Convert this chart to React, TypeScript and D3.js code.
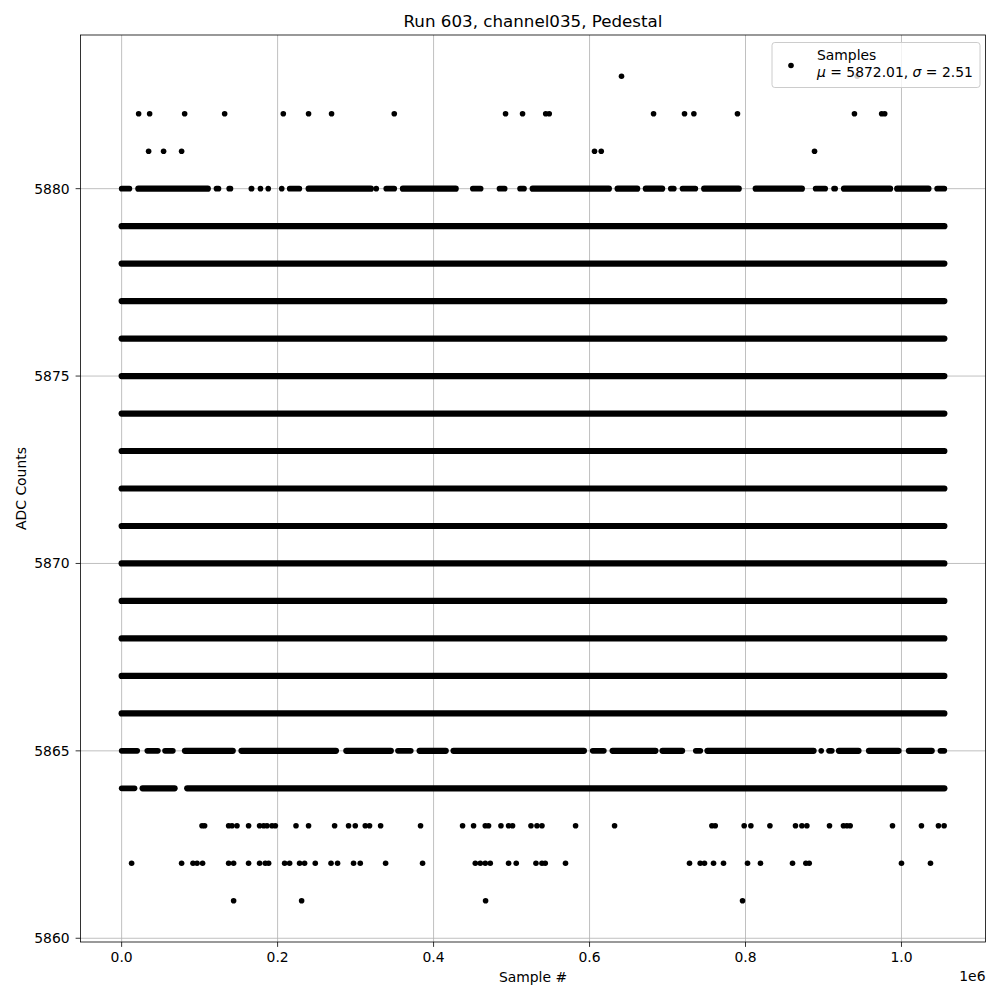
import React from "react";
import * as d3 from "d3";

// ---- data (x in units of 1e6 samples) ----
const title = "Run 603, channel035, Pedestal";
const xLabel = "Sample #";
const yLabel = "ADC Counts";
const xTicks = [0.0, 0.2, 0.4, 0.6, 0.8, 1.0];
const yTicks = [5860, 5865, 5870, 5875, 5880];
const xDataMin = 0;
const xDataMax = 1.055;
const yDataMin = 5861;
const yDataMax = 5883;
const meanValue = 5872.01;
const sigmaValue = 2.51;

// levels whose samples form a continuous band over the whole run
const denseLevels = [5866, 5867, 5868, 5869, 5870, 5871, 5872, 5873, 5874, 5875, 5876, 5877, 5878, 5879];

// bands with gaps: [start, end] runs of consecutive samples
const runs5880: [number, number][] = [
  [0.0, 0.010], [0.0214, 0.1105], [0.1216, 0.1242], [0.1379, 0.1396], [0.1663, 0.1667],
  [0.178, 0.178], [0.188, 0.188], [0.2053, 0.2053], [0.2155, 0.2279], [0.2398, 0.3196],
  [0.3265, 0.3265], [0.3393, 0.3496], [0.3607, 0.4284], [0.4503, 0.4604], [0.4845, 0.4912],
  [0.5109, 0.5160], [0.5271, 0.6248], [0.6360, 0.6611], [0.6722, 0.6931], [0.7042, 0.7081],
  [0.7192, 0.7357], [0.7470, 0.7913], [0.8131, 0.8723], [0.8899, 0.9022], [0.9135, 0.9150],
  [0.9263, 0.9854], [0.9945, 1.0346], [1.0457, 1.055],
];
const runs5865: [number, number][] = [
  [0.0, 0.020], [0.0329, 0.0465], [0.0556, 0.0657], [0.0812, 0.1425], [0.1537, 0.2748],
  [0.2881, 0.3452], [0.3543, 0.3708], [0.3821, 0.4156], [0.4256, 0.5928], [0.6040, 0.6184],
  [0.6296, 0.6845], [0.6936, 0.7187], [0.7362, 0.7421], [0.7512, 0.8873], [0.8971, 0.8971],
  [0.9070, 0.9107], [0.9198, 0.9449], [0.9583, 0.9962], [1.0095, 1.0388], [1.0499, 1.055],
];
const runs5864: [number, number][] = [
  [0.0, 0.0166], [0.0269, 0.0679], [0.0841, 1.055],
];

// isolated samples
const samples5883 = [0.6410, 0.9432];
const samples5882 = [0.0218, 0.0359, 0.0808, 0.1321, 0.2073, 0.2397, 0.2692, 0.3496, 0.4923, 0.5141,
  0.5438, 0.5483, 0.6821, 0.7218, 0.7338, 0.7897, 0.9397, 0.9746, 0.9785];
const samples5881 = [0.0346, 0.0538, 0.0769, 0.6064, 0.6150, 0.8885];
const samples5863 = [0.1031, 0.1064, 0.1372, 0.1415, 0.1479, 0.1628, 0.1769, 0.1821, 0.1864, 0.1928,
  0.1971, 0.2236, 0.2397, 0.2731, 0.2910, 0.2996, 0.3124, 0.3179, 0.3321, 0.3833, 0.4372, 0.4513,
  0.4663, 0.4705, 0.4864, 0.4962, 0.5013, 0.5249, 0.5326, 0.5390, 0.5821, 0.6321, 0.7569, 0.7612,
  0.7983, 0.8069, 0.8313, 0.8641, 0.8723, 0.8787, 0.9077, 0.9256, 0.9300, 0.9342, 0.9885, 1.0256,
  1.0474, 1.0547];
const samples5862 = [0.0128, 0.0769, 0.0915, 0.0967, 0.1038, 0.1372, 0.1436, 0.1628, 0.1769, 0.1842,
  0.1885, 0.2090, 0.2154, 0.2282, 0.2346, 0.2483, 0.2685, 0.2769, 0.2974, 0.3060, 0.3385, 0.3859,
  0.4535, 0.4599, 0.4663, 0.4727, 0.4962, 0.5060, 0.5313, 0.5390, 0.5432, 0.5692, 0.7282, 0.7419,
  0.7474, 0.7590, 0.7718, 0.8026, 0.8192, 0.8603, 0.8774, 0.8817, 1.0000, 1.0372];
const samples5861 = [0.1436, 0.2308, 0.4667, 0.7962];

const runLevels: { level: number; runs: [number, number][] }[] = [
  { level: 5880, runs: runs5880 },
  { level: 5865, runs: runs5865 },
  { level: 5864, runs: runs5864 },
];
const pointLevels: { level: number; xs: number[] }[] = [
  { level: 5883, xs: samples5883 },
  { level: 5882, xs: samples5882 },
  { level: 5881, xs: samples5881 },
  { level: 5863, xs: samples5863 },
  { level: 5862, xs: samples5862 },
  { level: 5861, xs: samples5861 },
];

const FONT = "DejaVu Sans, Liberation Sans, sans-serif";

export default function App() {
  const W = 1000, H = 1000;
  const left = 80.5, right = 985.5, top = 35, bottom = 942;
  const xr = xDataMax - xDataMin;
  const yrng = yDataMax - yDataMin;
  const x = d3.scaleLinear().domain([xDataMin - 0.05 * xr, xDataMax + 0.05 * xr]).range([left, right]);
  const y = d3.scaleLinear().domain([yDataMin - 0.05 * yrng, yDataMax + 0.05 * yrng]).range([bottom, top]);
  const r = 2.8;
  const bandW = 6.2;
  const tickLen = 4.9;
  const tickFs = 13.9;

  const fullRuns = denseLevels.map((lv) => ({ level: lv, runs: [[xDataMin, xDataMax]] as [number, number][] }));
  const allRuns = [...fullRuns, ...runLevels];

  const lx = 772, ly = 42.5, lw = 208, lh = 45;

  return (
    <div style={{ position: "absolute", left: 0, top: 0 }}>
      <svg width={W} height={H} style={{ display: "block", background: "#fff" }} fontFamily={FONT}>
        <rect x={0} y={0} width={W} height={H} fill="#fff" />
        <defs>
          <clipPath id="plotclip">
            <rect x={left} y={top} width={right - left} height={bottom - top} />
          </clipPath>
        </defs>
        {/* grid */}
        <g stroke="#b0b0b0" strokeWidth={0.8}>
          {xTicks.map((t) => (
            <line key={"gx" + t} x1={x(t)} x2={x(t)} y1={top} y2={bottom} />
          ))}
          {yTicks.map((t) => (
            <line key={"gy" + t} x1={left} x2={right} y1={y(t)} y2={y(t)} />
          ))}
        </g>
        {/* data */}
        <g clipPath="url(#plotclip)">
          {allRuns.map((row) =>
            row.runs.map((s, i) => {
              const w = s[1] - s[0] > 0.02 ? bandW : 2 * r;
              return (
                <line
                  key={row.level + "-" + i}
                  x1={x(s[0])}
                  x2={x(s[1])}
                  y1={y(row.level)}
                  y2={y(row.level)}
                  stroke="#000"
                  strokeWidth={w}
                  strokeLinecap="round"
                />
              );
            })
          )}
          {pointLevels.map((row) =>
            row.xs.map((v, i) => <circle key={row.level + "p" + i} cx={x(v)} cy={y(row.level)} r={r} fill="#000" />)
          )}
        </g>
        {/* frame */}
        <rect x={left} y={top} width={right - left} height={bottom - top} fill="none" stroke="#000" strokeWidth={0.8} />
        {/* x ticks */}
        {xTicks.map((t) => (
          <g key={"xt" + t}>
            <line x1={x(t)} x2={x(t)} y1={bottom} y2={bottom + tickLen} stroke="#000" strokeWidth={0.8} />
            <text x={x(t)} y={962} textAnchor="middle" fontSize={tickFs} fill="#000">
              {t.toFixed(1)}
            </text>
          </g>
        ))}
        <text x={right} y={981} textAnchor="end" fontSize={tickFs} fill="#000">1e6</text>
        {/* y ticks */}
        {yTicks.map((t) => (
          <g key={"yt" + t}>
            <line x1={left - tickLen} x2={left} y1={y(t)} y2={y(t)} stroke="#000" strokeWidth={0.8} />
            <text x={left - tickLen - 6} y={y(t)} dy="0.35em" textAnchor="end" fontSize={tickFs} fill="#000">
              {t}
            </text>
          </g>
        ))}
        {/* labels */}
        <text x={(left + right) / 2} y={27} textAnchor="middle" fontSize={16.7} fill="#000">{title}</text>
        <text x={(left + right) / 2} y={982} textAnchor="middle" fontSize={tickFs} fill="#000">{xLabel}</text>
        <text
          transform={`translate(26, ${(top + bottom) / 2}) rotate(-90)`}
          textAnchor="middle"
          fontSize={tickFs}
          fill="#000"
        >
          {yLabel}
        </text>
        {/* legend */}
        <g>
          <rect x={lx} y={ly} width={lw} height={lh} rx={2.8} fill="#fff" fillOpacity={0.8} stroke="#cccccc" strokeWidth={1} />
          <circle cx={791} cy={65.5} r={r} fill="#000" />
          <text x={817} y={60} fontSize={tickFs} fill="#000">Samples</text>
          <text x={817} y={76.5} fontSize={tickFs} fill="#000">
            <tspan fontStyle="italic">μ</tspan>
            <tspan>{` = ${meanValue.toFixed(2)}, `}</tspan>
            <tspan fontStyle="italic">σ</tspan>
            <tspan>{` = ${sigmaValue.toFixed(2)}`}</tspan>
          </text>
        </g>
      </svg>
    </div>
  );
}
